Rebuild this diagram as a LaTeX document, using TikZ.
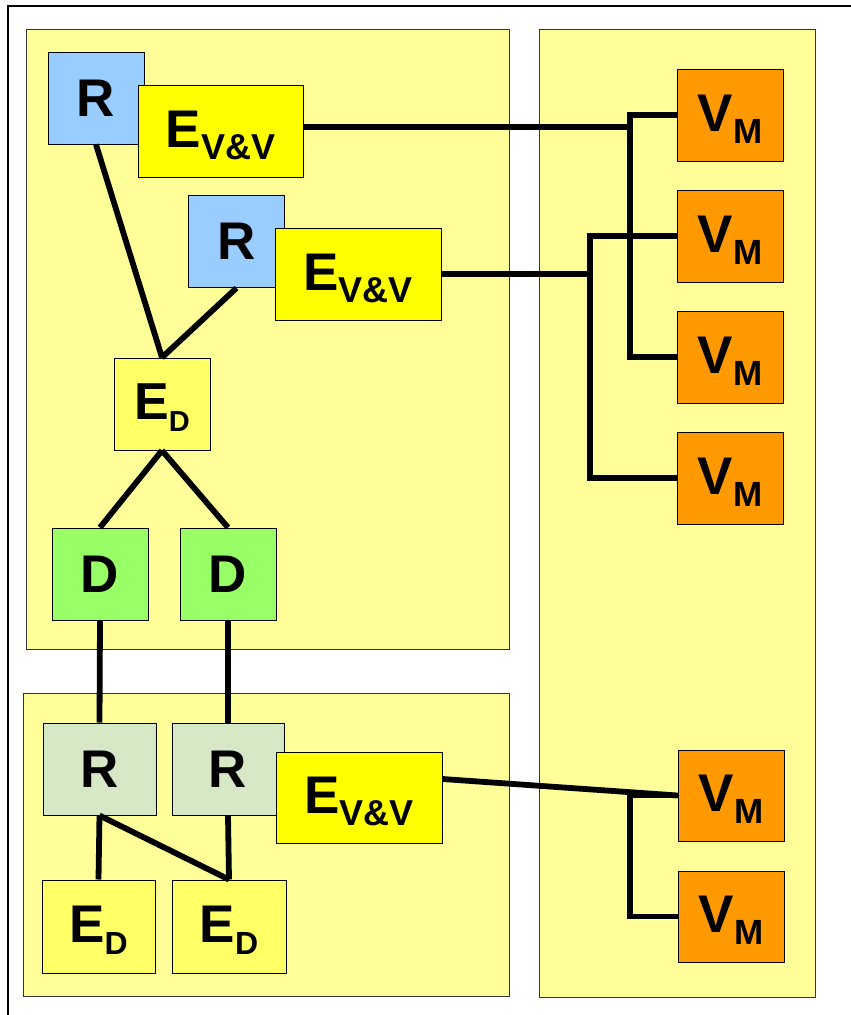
\documentclass[tikz,border=0pt]{standalone}
\usepackage{fontspec}
\setmainfont{Liberation Sans}
\usetikzlibrary{calc}
\definecolor{panelY}{HTML}{FFFF99}
\definecolor{rBlue}{HTML}{99CCFF}
\definecolor{evvY}{HTML}{FFFF00}
\definecolor{edY}{HTML}{FFFF66}
\definecolor{dGreen}{HTML}{99FF66}
\definecolor{rGrey}{HTML}{D6E8C5}
\definecolor{vmOrange}{HTML}{FF9900}
\newcommand{\mainsz}[2]{{\fontsize{#1}{#1}\selectfont #2}}
\newcommand{\lowsub}[3]{\raisebox{-#1}[0pt][4pt]{\fontsize{#2}{#2}\selectfont #3}}
\begin{document}
\begin{tikzpicture}[x=1pt,y=-1pt,font=\bfseries,
  panel/.style={draw=black!80,line width=1pt,fill=panelY},
  box/.style={draw=black,line width=1pt,inner sep=0pt,minimum height=92pt},
  conn/.style={line width=5.8pt,black}]
\useasboundingbox (0,0) rectangle (851,1015);
\fill[white] (0,0) rectangle (851,1015);
% outer frame (cut by the picture edge)
\draw[line width=1.3pt] (870,6) -- (8,6) -- (8,1030);
% panels
\draw[panel] (26,29) rectangle (509,649);
\draw[panel] (23,693) rectangle (509,996);
\draw[panel] (539,29) rectangle (815,997);
% top-left panel
\node[box,fill=rBlue,minimum width=96pt] (R1) at (96,98) {\mainsz{53}{R}};
\node[box,fill=evvY,minimum width=165pt] (E1) at (220.5,131) {\mainsz{53}{E}\lowsub{12pt}{36}{V\&V}\hspace{14pt}};
\node[box,fill=rBlue,minimum width=96pt] (R2) at (236.5,241.5) {\mainsz{53}{R}};
\node[box,fill=evvY,minimum width=166pt] (E2) at (358,274) {\mainsz{53}{E}\lowsub{12pt}{36}{V\&V}\hspace{14pt}};
\node[box,fill=edY,minimum width=96pt] (ED1) at (162,404) {\mainsz{52}{E}\lowsub{12pt}{29}{D}};
\node[box,fill=dGreen,minimum width=96pt] (D1) at (100,574) {\mainsz{53}{D}};
\node[box,fill=dGreen,minimum width=96pt] (D2) at (228,574) {\mainsz{53}{D}};
% bottom-left panel
\node[box,fill=rGrey,minimum width=113pt] (R3) at (99.5,769) {\mainsz{53}{R}};
\node[box,fill=rGrey,minimum width=112pt] (R4) at (228,769) {\mainsz{53}{R}};
\node[box,fill=evvY,minimum width=166pt,minimum height=91pt] (E3) at (359,797.5) {\mainsz{53}{E}\lowsub{12pt}{36}{V\&V}\hspace{14pt}};
\node[box,fill=edY,minimum width=113pt,minimum height=93pt] (ED2) at (98.5,926.5) {\mainsz{53}{E}\lowsub{12pt}{32}{D}};
\node[box,fill=edY,minimum width=114pt,minimum height=93pt] (ED3) at (229,926.5) {\mainsz{53}{E}\lowsub{12pt}{32}{D}};
% right panel
\node[box,fill=vmOrange,minimum width=106pt] (V1) at (730,115) {\mainsz{53}{V}\lowsub{12pt}{35}{M}};
\node[box,fill=vmOrange,minimum width=106pt] (V2) at (730,236) {\mainsz{53}{V}\lowsub{12pt}{35}{M}};
\node[box,fill=vmOrange,minimum width=106pt] (V3) at (730,357) {\mainsz{53}{V}\lowsub{12pt}{35}{M}};
\node[box,fill=vmOrange,minimum width=106pt] (V4) at (730,478) {\mainsz{53}{V}\lowsub{12pt}{35}{M}};
\node[box,fill=vmOrange,minimum width=106pt,minimum height=91pt] (V5) at (731,795.5) {\mainsz{53}{V}\lowsub{12pt}{35}{M}};
\node[box,fill=vmOrange,minimum width=106pt,minimum height=91pt] (V6) at (731,916.5) {\mainsz{53}{V}\lowsub{12pt}{35}{M}};
% junction coordinates
\coordinate (e1) at ([yshift=4pt]E1.east);
\coordinate (e3) at ([yshift=18.5pt]E3.east);
\coordinate (bar1) at (630,0);
\coordinate (bar2) at (590,0);
\coordinate (bar3) at (630,0);
% connectors
\draw[conn] (R1.south) -- (ED1.north);
\draw[conn] (R2.south) -- (ED1.north);
\draw[conn] (ED1.south) -- (D1.north);
\draw[conn] (ED1.south) -- (D2.north);
\draw[conn] (D1.south) -- (R3.north);
\draw[conn] (D2.south) -- (R4.north);
\draw[conn] (R3.south) -- (ED2.north);
\draw[conn] (R3.south) -- (ED3.north);
\draw[conn] (R4.south) -- (ED3.north);
\draw[conn] (e1) -- (bar1 |- e1);
\draw[conn] (V1.west) -| (bar1 |- V3.west) -- (V3.west);
\draw[conn] (E2.east) -- (bar2 |- E2.east);
\draw[conn] (V2.west) -| (bar2 |- V4.west) -- (V4.west);
\draw[conn] (e3) -- (V5.west);
\draw[conn] (V5.west) -| (bar3 |- V6.west) -- (V6.west);
\end{tikzpicture}
\end{document}
